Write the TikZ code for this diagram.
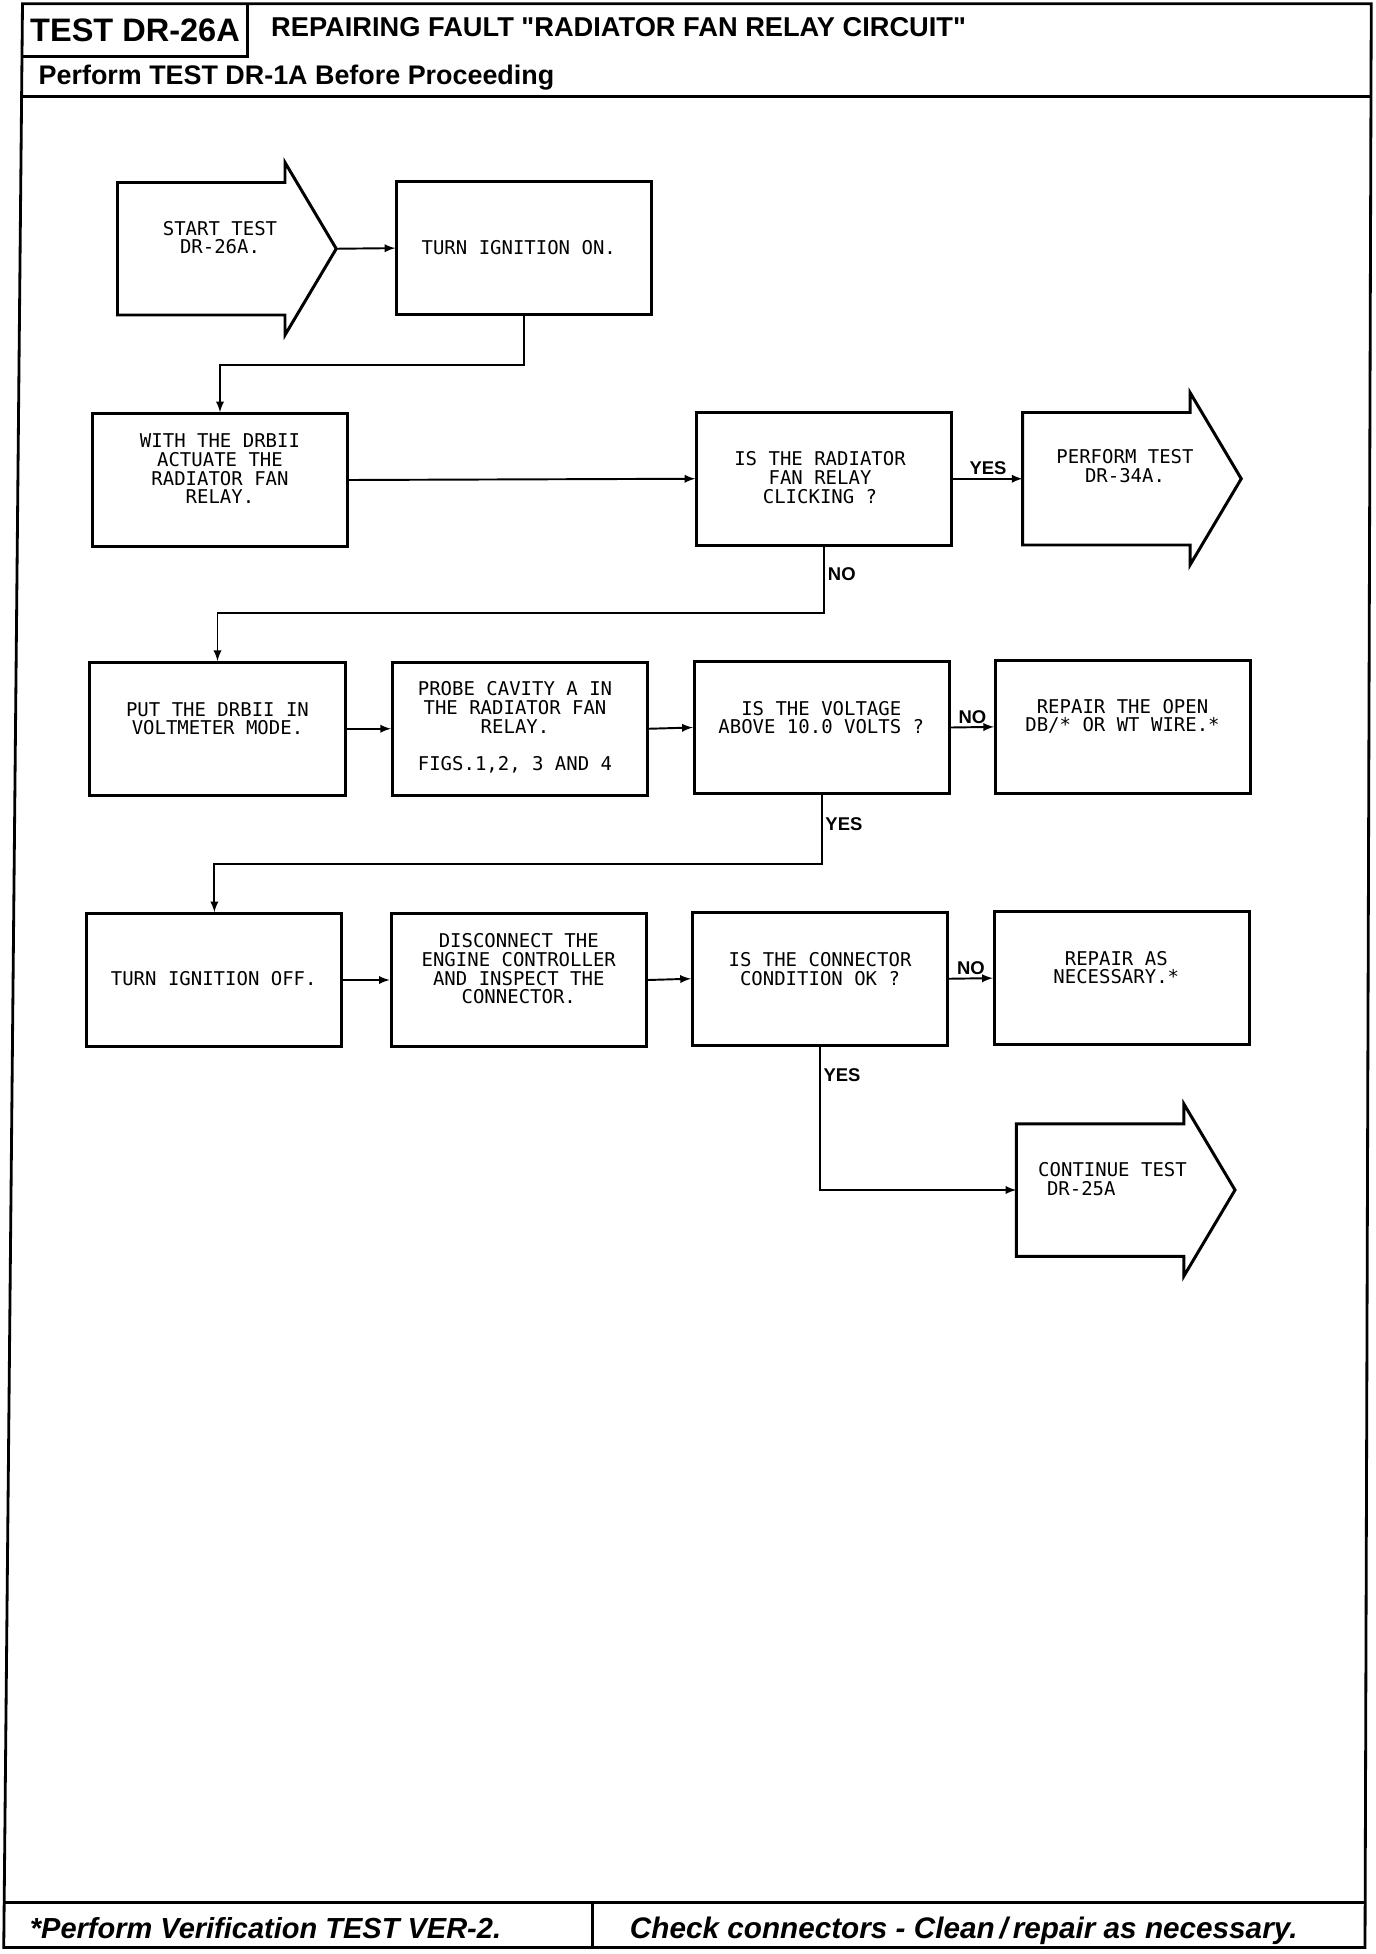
\documentclass[tikz,border=0pt]{standalone}
\usepackage{fontspec}
\setmainfont{Liberation Sans}
\newfontfamily\plotfont{DejaVu Sans Mono}
\begin{document}
\begin{tikzpicture}[x=.025cm,y=-.025cm,
 frame/.style={line width=1.6pt},
 box/.style={draw,line width=1.7pt,minimum width=5.1cm,minimum height=2.65cm,inner sep=0pt},
 plot/.style={font=\plotfont\fontsize{10.8}{10.7}\selectfont,align=center,inner sep=0pt},
 yn/.style={font=\bfseries\fontsize{10.5}{12}\selectfont,inner sep=1.5pt},
 link/.style={line width=1.1pt,-latex},
 testarrow/.pic={\draw[line width=1.7pt] (0,0) -- (134,0) -- (134,-16) -- (175,53) -- (134,122) -- (134,106) -- (0,106) -- cycle;
  \coordinate (-in) at (0,53); \coordinate (-tip) at (175,53);}]
\useasboundingbox (0,0) rectangle (1100.8,1563.2);
% page frame, header and footer
\draw[frame] (18,3) -- (1097,3) -- (1092,1558) -- (3,1558) -- cycle;
\draw[frame] (198,3) -- (198,45) -- (17.6,45) (17.3,77) -- (1096.8,77) (3.3,1522) -- (1092.2,1522) (474,1522) -- (474,1558);
\node[font=\bfseries\fontsize{18.5}{20}\selectfont] (testid) at (108,24) {TEST DR-26A};
\node[anchor=west,font=\bfseries\fontsize{15.5}{18}\selectfont] (title) at (212,22) {REPAIRING FAULT \textquotedbl RADIATOR FAN RELAY CIRCUIT\textquotedbl};
\node[anchor=west,font=\bfseries\fontsize{15.3}{18}\selectfont] (before) at (26,62) {Perform TEST DR-1A Before Proceeding};
\node[anchor=base west,font=\bfseries\itshape\fontsize{16.5}{18}\selectfont] (verify) at (19,1551) {*Perform Verification TEST VER-2.};
\node[anchor=base west,font=\bfseries\itshape\fontsize{16.9}{18}\selectfont] (check) at (499,1551) {Check connectors - Clean\,/\,repair as necessary.};
% flow chart
\pic (st) at (94,146) {testarrow};
\pic (perf) at (818,330) {testarrow};
\pic (cont) at (813,899) {testarrow};
\foreach \n/\x/\y in {ign/419.5/198.5, act/176/384, click/659.5/383,
  put/174/583, probe/416/583, volt/657.5/582, open/898.5/581.5,
  off/171.5/784, disc/415/784, conn/656/783, nec/897.5/782.5}
  \node[box] (\n) at (\x,\y) {};
\node[plot] (st-t) at (176,190) {START TEST\\DR-26A.};
\node[plot] (ign-t) at (415,198) {TURN IGNITION ON.};
\node[plot] (act-t) at (176,375) {WITH THE DRBII\\ACTUATE THE\\RADIATOR FAN\\RELAY.};
\node[plot] (click-t) at (656,382) {IS THE RADIATOR\\FAN RELAY\\CLICKING ?};
\node[plot] (perf-t) at (900,373) {PERFORM TEST\\DR-34A.};
\node[plot] (put-t) at (174,575) {PUT THE DRBII IN\\VOLTMETER MODE.};
\node[plot] (probe-t) at (412,582) {PROBE CAVITY A IN\\THE RADIATOR FAN\\RELAY.\\[10.7pt]FIGS.1,2, 3 AND 4};
\node[plot] (volt-t) at (657,574) {IS THE VOLTAGE\\ABOVE 10.0 VOLTS ?};
\node[plot] (open-t) at (898,573) {REPAIR THE OPEN\\DB/* OR WT WIRE.*};
\node[plot] (off-t) at (171,783) {TURN IGNITION OFF.};
\node[plot] (disc-t) at (415,775) {DISCONNECT THE\\ENGINE CONTROLLER\\AND INSPECT THE\\CONNECTOR.};
\node[plot] (conn-t) at (656,775) {IS THE CONNECTOR\\CONDITION OK ?};
\node[plot] (nec-t) at (893,774) {REPAIR AS\\NECESSARY.*};
\node[plot,align=left] (cont-t) at (890,943) {CONTINUE TEST\\\hspace*{5pt}DR-25A};
% connectors
\draw[link] (st-tip) -- (ign.west);
\draw[link] (ign.south) -- ++(0,39) -| (act.north);
\foreach \a/\b in {act/click, put/probe, probe/volt, off/disc, disc/conn}
  \draw[link] (\a.east) -- (\b.west);
\draw[link] (click.east) -- node[yn,above] (yes1) {YES} (perf-in);
\draw[link] (click.south) -- ++(0,53) node[yn,pos=.42,right] (no1) {NO} -| (put.north);
\draw[link] (volt.east) -- node[yn,above] (no2) {NO} (open.west);
\draw[link] (volt.south) -- ++(0,55) node[yn,pos=.42,right] (yes2) {YES} -| (off.north);
\draw[link] (conn.east) -- node[yn,above] (no3) {NO} (nec.west);
\draw[link] (conn.south) |- node[yn,pos=.1,right] (yes3) {YES} (cont-in);
\end{tikzpicture}
\end{document}
